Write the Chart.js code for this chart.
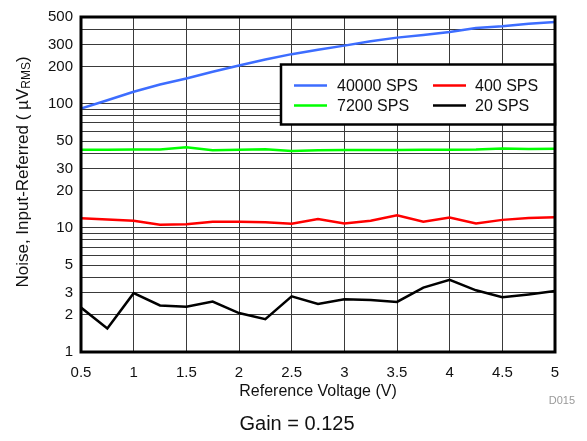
<!DOCTYPE html>
<html>
<head>
<meta charset="utf-8">
<script src="https://cdn.jsdelivr.net/npm/chart.js@4.4.1/dist/chart.umd.min.js"></script>
<style>
  html,body{margin:0;padding:0;background:#fff}
  #wrap{position:relative;width:587px;height:441px}
</style>
</head>
<body>
<div id="wrap"><canvas id="c"></canvas></div>
<script>
// reference voltage (V)
const xValues=[0.5,0.75,1,1.25,1.5,1.75,2,2.25,2.5,2.75,3,3.25,3.5,3.75,4,4.25,4.5,4.75,5];
// input-referred noise (uVrms)
const sps40000=[91.5,106.6,125,143,160,181,203,227,251,272,294,319,341,358,378,408,421,441,455];
const sps7200=[42.6,42.6,42.8,42.8,44.6,42.2,42.6,43.0,41.7,42.3,42.5,42.5,42.5,42.7,42.7,42.8,43.7,43.2,43.5];
const sps400=[11.98,11.7,11.4,10.6,10.7,11.2,11.2,11.1,10.8,11.76,10.85,11.4,12.66,11.2,12.1,10.85,11.6,12.0,12.2];
const sps20=[2.28,1.55,2.98,2.37,2.32,2.55,2.06,1.84,2.81,2.44,2.66,2.62,2.53,3.30,3.82,3.14,2.76,2.91,3.10];

const xTicks=[0.5,1,1.5,2,2.5,3,3.5,4,4.5,5];
const yGrid=[1,2,3,4,5,6,7,8,9,10,20,30,40,50,60,70,80,90,100,200,300,400,500];
const yTickLabels=[1,2,3,5,10,20,30,50,100,200,300,500];

const FONT='"Liberation Sans", Arial, Helvetica, sans-serif';
const series=[
  {label:'40000 SPS',data:sps40000,color:'#3d6dff'},
  {label:'7200 SPS',data:sps7200,color:'#00ff00'},
  {label:'400 SPS',data:sps400,color:'#ff0000'},
  {label:'20 SPS',data:sps20,color:'#000000'}
];
// legend grid: [row][col] -> series index
const legendOrder=[[0,2],[1,3]];

const pts=arr=>arr.map((y,i)=>({x:xValues[i],y:y}));

const frame={
  id:'frame',
  afterDatasetsDraw(chart){
    const {ctx,chartArea:a}=chart;
    ctx.save();
    // legend box
    const lx=281,ly=64.5,lw=a.right-281,lh=60;
    ctx.fillStyle='#fff';
    ctx.fillRect(lx,ly,lw,lh);
    ctx.lineWidth=2.5;ctx.strokeStyle='#000';
    ctx.strokeRect(lx,ly,lw,lh);
    ctx.font='16px '+FONT;ctx.textBaseline='middle';ctx.textAlign='left';
    const cols=[{s:294,e:327,t:337},{s:433,e:466,t:475}];
    const rows=[85.5,105.5];
    legendOrder.forEach((r,ri)=>r.forEach((si,ci)=>{
      const s=series[si],c=cols[ci],y=rows[ri];
      ctx.strokeStyle=s.color;ctx.lineWidth=2.5;
      ctx.beginPath();ctx.moveTo(c.s,y);ctx.lineTo(c.e,y);ctx.stroke();
      ctx.fillStyle='#111';ctx.fillText(s.label,c.t,y+1);
    }));
    // plot border
    ctx.strokeStyle='#000';ctx.lineWidth=3;
    ctx.strokeRect(a.left,a.top,a.right-a.left,a.bottom-a.top);
    ctx.restore();
  },
  afterDraw(chart){
    const {ctx,chartArea:a}=chart;
    ctx.save();
    ctx.fillStyle='#111';
    // x title
    ctx.font='16px '+FONT;ctx.textAlign='center';ctx.textBaseline='middle';
    ctx.fillText('Reference Voltage (V)',(a.left+a.right)/2,392);
    // gain caption
    ctx.font='20px '+FONT;
    ctx.fillText('Gain = 0.125',297,424);
    // figure id
    ctx.font='11px '+FONT;ctx.fillStyle='#999';ctx.textAlign='right';
    ctx.fillText('D015',575,401);
    // y title with subscript
    ctx.translate(23,172);ctx.rotate(-Math.PI/2);
    ctx.fillStyle='#111';ctx.textAlign='left';ctx.textBaseline='middle';
    const main='Noise, Input-Referred ( \u00b5V',sub='RMS',end=')';
    ctx.font='17px '+FONT;const w1=ctx.measureText(main).width,w3=ctx.measureText(end).width;
    ctx.font='12px '+FONT;const w2=ctx.measureText(sub).width;
    let x=-(w1+w2+w3)/2;
    ctx.font='17px '+FONT;ctx.fillText(main,x,0);x+=w1;
    ctx.font='12px '+FONT;ctx.fillText(sub,x,4);x+=w2;
    ctx.font='17px '+FONT;ctx.fillText(end,x,0);
    ctx.restore();
  }
};

new Chart(document.getElementById('c'),{
  type:'line',
  data:{datasets:series.map(s=>({label:s.label,data:pts(s.data),borderColor:s.color,backgroundColor:s.color,borderWidth:2.5,pointRadius:0,tension:0}))},
  options:{
    responsive:true,maintainAspectRatio:false,animation:false,
    layout:{padding:{left:0,top:15,right:32,bottom:0}},
    plugins:{legend:{display:false},tooltip:{enabled:false}},
    scales:{
      x:{type:'linear',min:0.5,max:5,
        afterFit(s){s.height=89},
        afterBuildTicks(s){s.ticks=xTicks.map(v=>({value:v}))},
        grid:{color:'#3a3a3a',lineWidth:1,drawTicks:false},
        border:{display:false},
        ticks:{padding:12,color:'#111',font:{family:FONT,size:15},autoSkip:false,maxRotation:0,callback:v=>String(v)}
      },
      y:{type:'logarithmic',min:1,max:500,
        afterFit(s){s.width=81},
        afterBuildTicks(s){s.ticks=yGrid.map(v=>({value:v}))},
        grid:{color:'#3a3a3a',lineWidth:1,drawTicks:false},
        border:{display:false},
        ticks:{padding:8,color:'#111',font:{family:FONT,size:15},autoSkip:false,callback:v=>yTickLabels.includes(v)?String(v):''}
      }
    }
  },
  plugins:[frame]
});
</script>
</body>
</html>
